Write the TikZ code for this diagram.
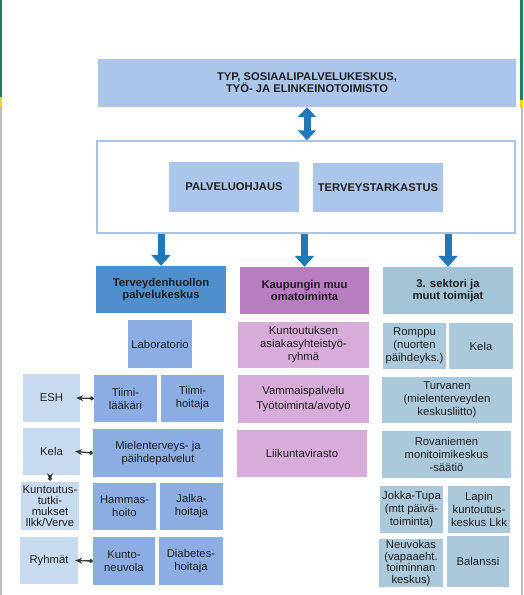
\documentclass[tikz,border=0pt]{standalone}
\usepackage{fontspec}
\setmainfont{Liberation Sans}
\usetikzlibrary{arrows.meta}
\definecolor{topblue}{RGB}{172,197,235}
\definecolor{framec}{RGB}{170,196,232}
\definecolor{hdrL}{RGB}{80,143,205}
\definecolor{itemL}{RGB}{140,173,226}
\definecolor{sideL}{RGB}{200,219,238}
\definecolor{hdrM}{RGB}{184,125,192}
\definecolor{itemM}{RGB}{215,172,219}
\definecolor{hdrR}{RGB}{163,196,214}
\definecolor{itemR}{RGB}{172,201,220}
\definecolor{arrowc}{RGB}{32,120,184}
\definecolor{txt}{RGB}{30,30,30}
\definecolor{conc}{RGB}{55,55,55}
\definecolor{edgegreen}{RGB}{30,130,80}
\definecolor{edgeyellow}{RGB}{235,215,40}
\definecolor{edgegray}{RGB}{190,190,190}
\definecolor{edgedark}{RGB}{120,115,105}
\begin{document}
\begin{tikzpicture}[x=1pt,y=-1pt,
  bx/.style={rectangle, inner sep=1pt, align=center, text=txt,
    font=\fontsize{11.3}{13}\selectfont},
  hdr/.style={bx, font=\fontsize{11.3}{12.5}\selectfont\bfseries},
  capsbox/.style={bx, font=\fontsize{11.2}{12}\selectfont\bfseries},
  bigarrow/.style={arrowc, line width=7pt, -{Triangle[width=19pt,length=11pt]}},
  dblarrow/.style={arrowc, line width=7pt, {Triangle[width=18pt,length=10pt]}-{Triangle[width=18pt,length=10pt]}},
  conn/.style={conc, line width=1.3pt, {Stealth[length=7pt,width=6pt]}-{Circle[length=4pt]}}
]
\useasboundingbox (0,0) rectangle (523,595);
% scan edge strips
\fill[edgegreen] (0,0) rectangle (2,97);
\fill[edgeyellow] (0,97) rectangle (2,107);
\fill[edgegray] (0,107) rectangle (1.5,595);
\fill[edgegreen] (519.5,0) rectangle (523,100);
\fill[edgeyellow] (519.5,100) rectangle (523,108);
\fill[edgegray] (520.5,108) rectangle (523,595);

% top
\node[capsbox, fill=topblue, minimum width=418pt, minimum height=48pt] (top) at (307,83)
  {TYP, SOSIAALIPALVELUKESKUS,\\TYÖ- JA ELINKEINOTOIMISTO};
% frame
\node[draw=framec, line width=1.5pt, fill=white, minimum width=418pt, minimum height=92pt, inner sep=0pt] (frame) at (306,187) {};
\node[capsbox, fill=topblue, minimum width=130pt, minimum height=50pt] (palv) at (234,187) {PALVELUOHJAUS};
\node[capsbox, fill=topblue, minimum width=130pt, minimum height=49pt] (terv) at (378,187.5) {TERVEYSTARKASTUS};

% headers
\node[hdr, fill=hdrL, minimum width=130pt, minimum height=47pt] (hL) at (161,289.5) {Terveydenhuollon\\palvelukeskus};
\node[hdr, fill=hdrM, minimum width=129pt, minimum height=47pt] (hM) at (304.5,290.5) {Kaupungin muu\\omatoiminta};
\node[hdr, fill=hdrR, minimum width=130pt, minimum height=47pt] (hR) at (448,290.5) {3. sektori ja\\muut toimijat};

% arrows
\draw[dblarrow] (top.south -| 307,0) -- (frame.north -| 307,0);
\draw[bigarrow] (frame.south -| hL.north) -- (hL.north);
\draw[bigarrow] (frame.south -| hM.north) -- (hM.north);
\draw[bigarrow] (frame.south -| hR.north) -- (hR.north);

% left column
\node[bx, fill=itemL, minimum width=64pt, minimum height=48pt] (lab) at (160,344) {Laboratorio};
\node[bx, fill=sideL, minimum width=57pt, minimum height=48pt] (esh) at (51.5,398) {ESH};
\node[bx, fill=itemL, minimum width=63pt, minimum height=47pt] (tlaak) at (125.5,398.5) {Tiimi-\\lääkäri};
\node[bx, fill=itemL, minimum width=63pt, minimum height=47pt] (thoit) at (192.5,398.5) {Tiimi-\\hoitaja};
\node[bx, fill=sideL, minimum width=57pt, minimum height=47pt] (kelaL) at (51.5,451.5) {Kela};
\node[bx, fill=itemL, minimum width=130pt, minimum height=48pt] (miel) at (158,453) {Mielenterveys- ja\\päihdepalvelut};
\node[bx, fill=sideL, minimum width=58pt, minimum height=48pt, font=\fontsize{11.3}{11}\selectfont] (kuntt) at (50,506) {Kuntoutus-\\tutki-\\mukset\\llkk/Verve};
\node[bx, fill=itemL, minimum width=63pt, minimum height=47pt] (hamm) at (124.5,506.5) {Hammas-\\hoito};
\node[bx, fill=itemL, minimum width=63pt, minimum height=47pt] (jalka) at (191.5,506.5) {Jalka-\\hoitaja};
\node[bx, fill=sideL, minimum width=58pt, minimum height=47pt] (ryhm) at (49,560.5) {Ryhmät};
\node[bx, fill=itemL, minimum width=62pt, minimum height=48pt] (kneuv) at (124,561) {Kunto-\\neuvola};
\node[bx, fill=itemL, minimum width=64pt, minimum height=48pt] (diab) at (191,561) {Diabetes-\\hoitaja};

% middle column
\node[bx, fill=itemM, minimum width=131pt, minimum height=46pt] (kunt) at (303.5,345) {Kuntoutuksen\\asiakasyhteistyö-\\ryhmä};
\node[bx, fill=itemM, minimum width=131pt, minimum height=48pt] (vamm) at (303.5,399) {Vammaispalvelu\\[2pt]Työtoiminta/avotyö};
\node[bx, fill=itemM, minimum width=130pt, minimum height=47pt] (liik) at (302,453.5) {Liikuntavirasto};

% right column
\node[bx, fill=itemR, minimum width=63pt, minimum height=46pt] (romp) at (414.5,346) {Romppu\\(nuorten\\päihdeyks.)};
\node[bx, fill=itemR, minimum width=64pt, minimum height=46pt] (kelaR) at (481,346) {Kela};
\node[bx, fill=itemR, minimum width=130pt, minimum height=46pt] (turv) at (447,400) {Turvanen\\(mielenterveyden\\keskusliitto)};
\node[bx, fill=itemR, minimum width=129pt, minimum height=47pt] (rova) at (446.5,454.5) {Rovaniemen\\monitoimikeskus\\-säätiö};
\node[bx, fill=itemR, minimum width=63pt, minimum height=47pt] (jokka) at (411.5,509.5) {Jokka-Tupa\\(mtt päivä-\\toiminta)};
\node[bx, fill=itemR, minimum width=62pt, minimum height=47pt] (lapin) at (479,509.5) {Lapin\\kuntoutus-\\keskus Lkk};
\node[bx, fill=itemR, minimum width=64pt, minimum height=48pt, font=\fontsize{11.3}{11.5}\selectfont] (neuv) at (411,563) {Neuvokas\\(vapaaeht.\\toiminnan\\keskus)};
\node[bx, fill=itemR, minimum width=62pt, minimum height=51pt] (bal) at (478,561.5) {Balanssi};

% small connectors
\draw[conn] ([xshift=-4pt]esh.east) -- (tlaak.west);
\draw[conn] ([xshift=-5pt]kelaL.east) -- (miel.west);
\draw[conn] ([xshift=-3pt]ryhm.east) -- (kneuv.west);
\draw[conn] ([yshift=1.5pt]kuntt.north -| 50,0) -- ([yshift=-1.5pt]kelaL.south -| 50,0);
\end{tikzpicture}
\end{document}
